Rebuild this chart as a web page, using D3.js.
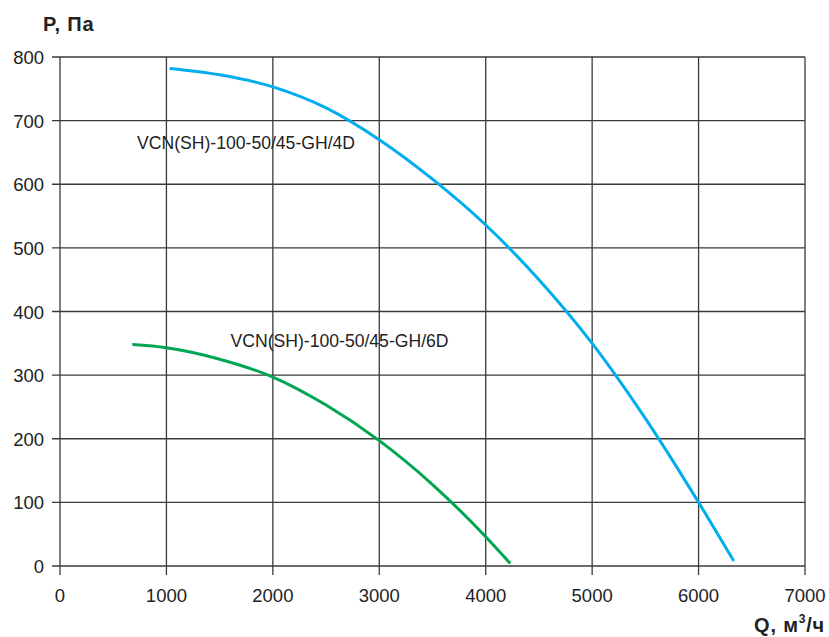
<!DOCTYPE html>
<html><head><meta charset="utf-8">
<script src="https://cdn.jsdelivr.net/npm/d3@7"></script>
<style>body{margin:0;background:#fff}svg{display:block}text{font-family:"Liberation Sans",Arial,sans-serif}</style>
</head><body><svg id="c" width="829" height="637"></svg>
<script>
const xTicks = [0,1000,2000,3000,4000,5000,6000,7000];
const yTicks = [0,100,200,300,400,500,600,700,800];
const q4D = [1030,1500,2000,2500,3000,3500,4000,4500,5000,5500,6000,6330];
const p4D = [782,772,753,720,670,608,536,450,350,232,100,8];
const q6D = [680,1000,1500,2000,2500,3000,3500,4000,4230];
const p6D = [348,343,325,297,253,197,128,46,4];
const labels = ["VCN(SH)-100-50/45-GH/4D","VCN(SH)-100-50/45-GH/6D"];

const svg = d3.select("#c");
const x = d3.scaleLinear().domain([0,7000]).range([60,805]);
const y = d3.scaleLinear().domain([0,800]).range([566,57]);

const grid = svg.append("g").attr("stroke","#3a3a3a").attr("stroke-width",1.3);
xTicks.forEach(t=>grid.append("line").attr("x1",x(t)).attr("x2",x(t)).attr("y1",y(800)).attr("y2",y(0)+9));
yTicks.forEach(t=>grid.append("line").attr("y1",y(t)).attr("y2",y(t)).attr("x1",x(0)-8).attr("x2",x(7000)));

svg.append("g").selectAll("text").data(xTicks).join("text")
  .attr("x",d=>x(d)).attr("y",602).attr("text-anchor","middle")
  .attr("font-size",18.5).attr("fill","#222").text(d=>d);
svg.append("g").selectAll("text").data(yTicks).join("text")
  .attr("x",44).attr("y",d=>y(d)+7).attr("text-anchor","end")
  .attr("font-size",18.5).attr("fill","#222").text(d=>d);

const line = d3.line().x(d=>x(d[0])).y(d=>y(d[1])).curve(d3.curveMonotoneX);
svg.append("path").attr("d",line(q4D.map((q,i)=>[q,p4D[i]]))).attr("fill","none").attr("stroke","#00aeef").attr("stroke-width",3);
svg.append("path").attr("d",line(q6D.map((q,i)=>[q,p6D[i]]))).attr("fill","none").attr("stroke","#00a651").attr("stroke-width",3);

svg.append("text").attr("x",137).attr("y",148.5).attr("font-size",17.6).attr("fill","#222").text(labels[0]);
svg.append("text").attr("x",230.5).attr("y",347).attr("font-size",17.6).attr("fill","#222").text(labels[1]);

svg.append("text").attr("x",43).attr("y",31).attr("font-size",20).attr("font-weight","bold").attr("fill","#222").attr("letter-spacing",0.8).text("P, Па");
const qt = svg.append("text").attr("x",825).attr("y",632).attr("text-anchor","end").attr("font-size",20).attr("font-weight","bold").attr("fill","#222").attr("letter-spacing",0.8);
qt.append("tspan").text("Q, м");
qt.append("tspan").attr("font-size",12).attr("dy",-9).text("3");
qt.append("tspan").attr("dy",9).text("/ч");
</script></body></html>
